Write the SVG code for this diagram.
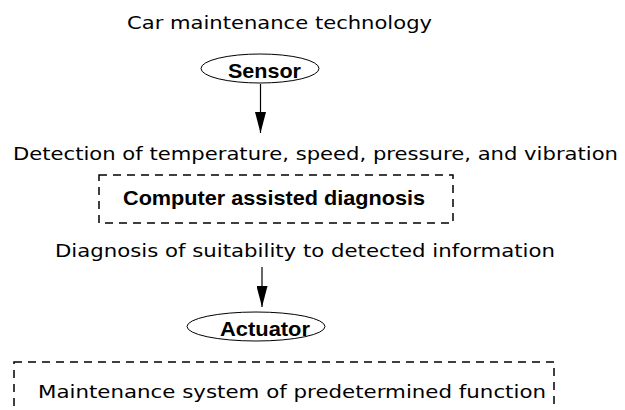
<svg xmlns="http://www.w3.org/2000/svg" width="625" height="410" viewBox="0 0 625 410">
<defs>
<style>
.t{font-family:"DejaVu Sans","Liberation Sans",Arial,sans-serif;font-size:18.5px;fill:#000}
.b{font-family:"Liberation Sans",Arial,sans-serif;font-size:21px;font-weight:bold;fill:#000}
.e{fill:#fff;stroke:#000;stroke-width:1}
.d{fill:none;stroke:#000;stroke-width:1.5;stroke-dasharray:8 6}
.c{stroke:#000;stroke-width:1.2;fill:none}
</style>
<marker id="ah" markerUnits="userSpaceOnUse" markerWidth="21" markerHeight="11" refX="21" refY="5.5" orient="auto" viewBox="0 0 21 11">
<path d="M0,0 L21,5.5 L0,11 Z" fill="#000"/>
</marker>
</defs>
<rect width="625" height="410" fill="#fff"/>
<g id="title"><text class="t" x="127" y="29" textLength="305" lengthAdjust="spacingAndGlyphs">Car maintenance technology</text></g>
<g id="sensor">
<ellipse class="e" cx="260" cy="68.5" rx="59" ry="14.5"/>
<text class="b" x="228" y="78" textLength="73" lengthAdjust="spacingAndGlyphs">Sensor</text>
</g>
<g id="detection"><text class="t" x="13" y="160" textLength="605" lengthAdjust="spacingAndGlyphs">Detection of temperature, speed, pressure, and vibration</text></g>
<g id="cad">
<rect class="d" x="99" y="175" width="354" height="48"/>
<text class="b" x="123" y="205" textLength="302" lengthAdjust="spacingAndGlyphs">Computer assisted diagnosis</text>
</g>
<g id="diagnosis"><text class="t" x="55" y="257" textLength="500" lengthAdjust="spacingAndGlyphs">Diagnosis of suitability to detected information</text></g>
<g id="actuator">
<ellipse class="e" cx="256" cy="326.5" rx="69" ry="14.5"/>
<text class="b" x="220" y="336" textLength="90" lengthAdjust="spacingAndGlyphs">Actuator</text>
</g>
<g id="maintenance">
<rect class="d" x="14" y="362" width="540" height="70"/>
<text class="t" x="38" y="398" textLength="508" lengthAdjust="spacingAndGlyphs">Maintenance system of predetermined function</text>
</g>
<g id="connectors">
<line class="c" x1="260.5" y1="84" x2="260.5" y2="133" marker-end="url(#ah)"/>
<line class="c" x1="262" y1="267" x2="262" y2="307" marker-end="url(#ah)"/>
</g>
</svg>
